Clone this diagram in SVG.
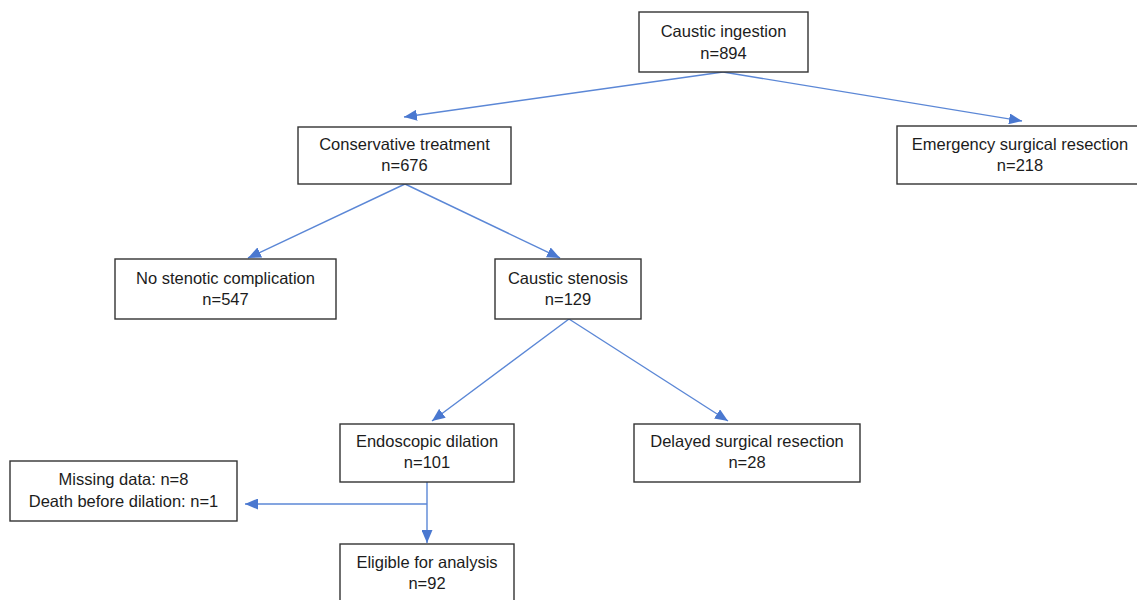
<svg xmlns="http://www.w3.org/2000/svg" width="1137" height="600" viewBox="0 0 1137 600">
<defs>
<style>
.box{fill:#fff;stroke:#333;stroke-width:1.4}
.t{font-family:"Liberation Sans",Arial,sans-serif;font-size:16.5px;fill:#1c1c1c;text-anchor:middle}
.c{stroke:#5b87d6;stroke-width:1.4;fill:none;marker-end:url(#ah)}
</style>
<marker id="ah" viewBox="0 0 13 11" refX="13" refY="5.5" markerWidth="13" markerHeight="11" markerUnits="userSpaceOnUse" orient="auto">
<path d="M0,0 L13,5.5 L0,11 z" fill="#4a78d0"/>
</marker>
</defs>
<rect width="1137" height="600" fill="#fff"/>
<g id="connectors">
<line class="c" x1="723" y1="72" x2="404" y2="117"/>
<line class="c" x1="723" y1="72" x2="1022" y2="121"/>
<line class="c" x1="405" y1="184" x2="248" y2="258"/>
<line class="c" x1="405" y1="184" x2="560" y2="258"/>
<line class="c" x1="569" y1="319" x2="432" y2="421"/>
<line class="c" x1="569" y1="319" x2="728" y2="421"/>
<line class="c" x1="427" y1="482" x2="427" y2="543"/>
<line class="c" x1="427" y1="504" x2="245" y2="504"/>
</g>
<g id="caustic-ingestion">
<rect class="box" x="639" y="12" width="169" height="60"/>
<text class="t" x="723.5" y="37">Caustic ingestion</text>
<text class="t" x="723.5" y="59">n=894</text>
</g>
<g id="conservative-treatment">
<rect class="box" x="298" y="127" width="213" height="57"/>
<text class="t" x="404.5" y="150">Conservative treatment</text>
<text class="t" x="404.5" y="171">n=676</text>
</g>
<g id="emergency-surgical-resection">
<rect class="box" x="897" y="126" width="246" height="58"/>
<text class="t" x="1020" y="150">Emergency surgical resection</text>
<text class="t" x="1020" y="171">n=218</text>
</g>
<g id="no-stenotic-complication">
<rect class="box" x="115" y="259" width="221" height="60"/>
<text class="t" x="225.5" y="284">No stenotic complication</text>
<text class="t" x="225.5" y="305">n=547</text>
</g>
<g id="caustic-stenosis">
<rect class="box" x="495" y="259" width="146" height="60"/>
<text class="t" x="568" y="284">Caustic stenosis</text>
<text class="t" x="568" y="305">n=129</text>
</g>
<g id="endoscopic-dilation">
<rect class="box" x="340" y="424" width="174" height="58"/>
<text class="t" x="427" y="447">Endoscopic dilation</text>
<text class="t" x="427" y="468">n=101</text>
</g>
<g id="delayed-surgical-resection">
<rect class="box" x="634" y="424" width="226" height="58"/>
<text class="t" x="747" y="447">Delayed surgical resection</text>
<text class="t" x="747" y="468">n=28</text>
</g>
<g id="missing-data">
<rect class="box" x="10" y="461" width="227" height="60"/>
<text class="t" x="123.5" y="485">Missing data: n=8</text>
<text class="t" x="123.5" y="507">Death before dilation: n=1</text>
</g>
<g id="eligible-for-analysis">
<rect class="box" x="340" y="544" width="174" height="60"/>
<text class="t" x="427" y="568">Eligible for analysis</text>
<text class="t" x="427" y="589">n=92</text>
</g>
</svg>
